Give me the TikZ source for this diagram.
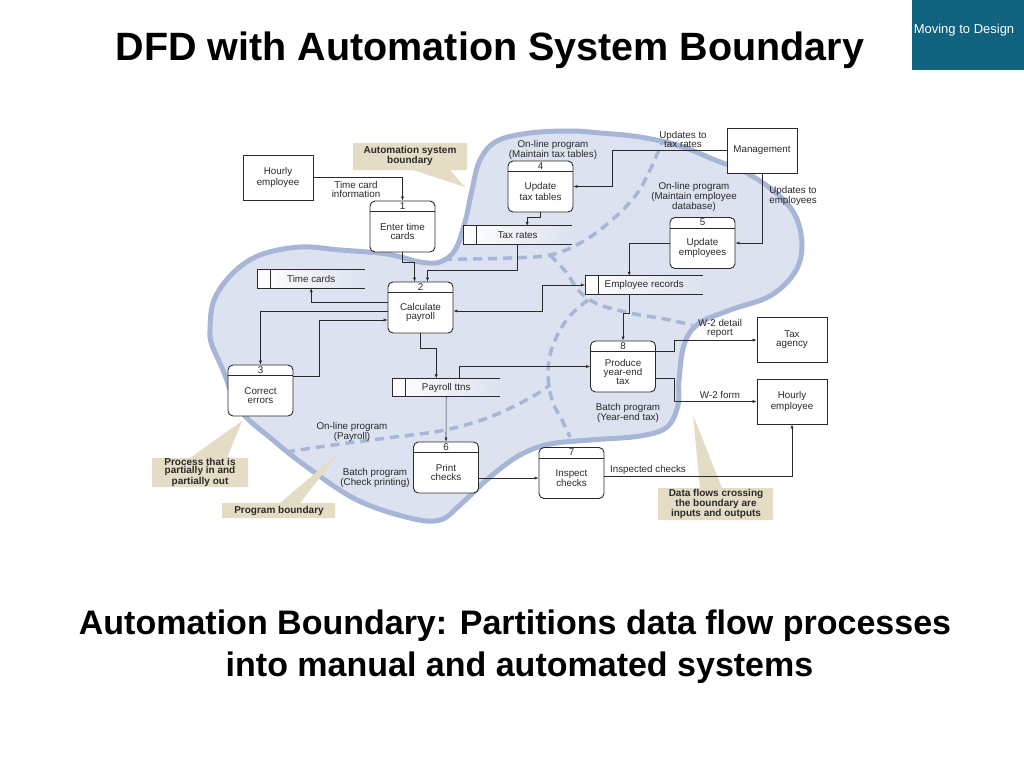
\documentclass[tikz,border=0pt]{standalone}
\usepackage{fontspec}
\setmainfont{Liberation Sans}
\usetikzlibrary{arrows.meta,calc}

\definecolor{blobfill}{HTML}{DCE2EF}
\definecolor{blobline}{HTML}{A7B6D6}
\definecolor{calloutbg}{HTML}{E4DCC5}
\definecolor{tealbox}{HTML}{11627F}
\definecolor{ink}{HTML}{2A2A2A}

\newcommand{\dfdfont}{\fontsize{9.8}{9}\selectfont}
\newcommand{\notefont}{\fontsize{10}{8.6}\selectfont\bfseries}

\tikzset{
  proc/.style={draw=ink, line width=0.9pt, rounded corners=5pt, fill=white,
    minimum width=65pt, minimum height=51pt, inner sep=0pt},
  entity/.style={draw=ink, line width=0.8pt, fill=white, minimum width=70pt,
    minimum height=45pt, align=center, font=\dfdfont, text=ink},
  store/.style={minimum height=18pt, inner sep=0pt, font=\dfdfont, text=ink,
    left color=white, middle color=white, right color=blobfill},
  lbl/.style={align=center, font=\dfdfont, inner sep=0pt, text=ink},
  note/.style={align=center, font=\notefont, inner sep=0pt, text=ink},
  flow/.style={draw=ink, line width=0.6pt, -{Latex[length=4pt,width=3.2pt]}},
  twoflow/.style={draw=ink, line width=0.6pt, {Latex[length=4pt,width=3.2pt]}-{Latex[length=4pt,width=3.2pt]}},
  boundary/.style={draw=blobline, line width=3.5pt, dash pattern=on 9pt off 6pt},
}

% process box: name, centre, number, text
\newcommand{\dfdproc}[4]{%
  \node[proc] (#1) at (#2) {};
  \draw[ink, line width=0.8pt] ($(#1.north west)+(0,11)$) -- ($(#1.north east)+(0,11)$);
  \node[lbl] (#1-num) at ($(#1.north)+(0,5.5)$) {#3};
  \node[lbl] (#1-txt) at ($(#1.center)+(0,5)$) {#4};
}
% open data store: name, west point, width, text
\newcommand{\dfdstore}[4]{%
  \node[store, minimum width=#3pt, anchor=west] (#1) at (#2) {#4};
  \draw[ink, line width=0.8pt] (#1.north east) -- (#1.north west) -- (#1.south west) -- (#1.south east);
  \draw[ink, line width=0.8pt] ($(#1.north west)+(13,0)$) -- ($(#1.south west)+(13,0)$);
}

\begin{document}
\begin{tikzpicture}[x=1pt, y=-1pt]
  \fill[white] (0,0) rectangle (1024,768);
  \useasboundingbox (0,0) rectangle (1024,768);

  % heading and tag
  \fill[tealbox] (912,0) rectangle (1024,70);
  \node[font=\fontsize{13}{13}\selectfont, text=white, anchor=base] (tag) at (964,34) {Moving to Design};
  \node[font=\fontsize{39.5}{40}\selectfont\bfseries, anchor=base] (title) at (490,60)
    {DFD with Automation System Boundary};

  % automation boundary
  \draw[fill=blobfill, draw=blobline, line width=5pt]
    plot[smooth cycle, tension=0.6] coordinates {
      (210,330) (214,300) (233,273) (260,255) (300,247) (340,250) (387,254)
      (420,262) (440,262) (455,250) (465,222) (472,190) (480,160) (497,141)
      (530,133) (570,131) (600,133) (640,137) (680,146) (715,160) (745,172)
      (775,192) (795,215) (802,245) (795,272) (770,296) (730,310) (698,324)
      (684,345) (679,380) (678,405) (667,427) (640,436) (590,440) (550,444)
      (520,455) (490,477) (460,505) (440,520) (410,518) (357,500) (307,467)
      (273,440) (240,410) (223,370) (212,345)};

  % program boundaries
  \draw[boundary] plot[smooth, tension=0.6] coordinates {
    (443,259) (470,259) (510,258) (550,255) (582,242) (612,220) (636,195) (651,168) (662,142)};
  \draw[boundary] plot[smooth, tension=0.6] coordinates {
    (550,255) (566,272) (580,292) (600,305) (635,314) (665,319) (692,325)};
  \draw[boundary] plot[smooth, tension=0.6] coordinates {
    (588,300) (568,318) (553,345) (548,372) (552,400) (562,420) (570,437)};
  \draw[boundary] plot[smooth, tension=0.6] coordinates {
    (286,452) (340,444) (395,437) (445,430) (490,417) (530,398) (550,385)};

  % callouts
  \fill[calloutbg] (353,143) rectangle (467,170) (413,170) -- (450,170) -- (465,187) -- cycle;
  \node[note] (noteauto) at (410,156) {Automation system\\boundary};
  \fill[calloutbg] (152,458) rectangle (248,487) (190,458) -- (227,458) -- (242,421) -- cycle;
  \node[note] (notepartial) at (200,472) {Process that is\\partially in and\\partially out};
  \fill[calloutbg] (222,503) rectangle (335,518) (280,503) -- (300,503) -- (340,452) -- cycle;
  \node[note] (noteprogram) at (279,511) {Program boundary};
  \fill[calloutbg] (658,488) rectangle (773,520) (700,488) -- (722,488) -- (693,415) -- cycle;
  \node[note] (notecross) at (716,504) {Data flows crossing\\the boundary are\\inputs and outputs};

  % external entities
  \node[entity] (hourlyin) at (278,177.5) {Hourly\\employee};
  \node[entity] (mgmt) at (762,150.5) {Management};
  \node[entity] (taxagency) at (792,340) {Tax\\agency};
  \node[entity] (hourlyout) at (792,401.5) {Hourly\\employee};

  % processes
  \dfdproc{p1}{402.5,226.5}{1}{Enter time\\cards}
  \dfdproc{p2}{420.5,307.5}{2}{Calculate\\payroll}
  \dfdproc{p3}{260.5,390.5}{3}{Correct\\errors}
  \dfdproc{p4}{540.5,186.5}{4}{Update\\tax tables}
  \dfdproc{p5}{702.5,243}{5}{Update\\employees}
  \dfdproc{p6}{446,467.5}{6}{Print\\checks}
  \dfdproc{p7}{571.5,473}{7}{Inspect\\checks}
  \dfdproc{p8}{623,366.5}{8}{Produce\\year-end\\tax}

  % data stores
  \dfdstore{timecards}{257,279}{108}{Time cards}
  \dfdstore{taxrates}{463,235}{109}{Tax rates}
  \dfdstore{emprec}{585,285}{118}{Employee records}
  \dfdstore{payroll}{392,387.5}{108}{Payroll ttns}

  % data flows
  \draw[flow] (hourlyin.east) -| (p1.north);
  \draw[flow] (p1.south) -- ++(0,10) -| ($(p2.north)+(-6,0)$);
  \draw[flow] (taxrates.south) -- ++(0,26) -| ($(p2.north)+(7,0)$);
  \draw[flow] (p4.south) -- ++(0,5) -| ($(taxrates.north)+(9.5,0)$);
  \draw[flow] (mgmt.west) -- ++(-114,0) |- (p4.east);
  \draw[flow] (mgmt.south) |- (p5.east);
  \draw[flow] (p5.west) -| ($(emprec.north)+(-15,0)$);
  \draw[twoflow] (emprec.west) -- ++(-43,0) |- ($(p2.east)+(0,3.5)$);
  \draw[flow] ($(p2.west)+(0,-5.5)$) -| (timecards.south);
  \draw[flow] ($(p2.west)+(0,3.5)$) -| (p3.north);
  \draw[flow] ($(p3.east)+(0,-14)$) -- ++(26,0) |- ($(p2.west)+(0,12.5)$);
  \draw[flow] (p2.south) -- ++(0,15) -| ($(payroll.north)+(-10,0)$);
  \draw[flow] ($(payroll.north)+(13,0)$) |- (p8.west);
  \draw[flow] (payroll.south) -- (p6.north);
  \draw[flow] ($(emprec.south)+(-15,0)$) -- ++(0,19) -| (p8.north);
  \draw[flow] ($(p8.east)+(0,-15.5)$) -- ++(18,0) |- (taxagency.west);
  \draw[flow] ($(p8.east)+(0,11.5)$) -- ++(18,0) |- (hourlyout.west);
  \draw[flow] ($(p6.east)+(0,10.5)$) -- ($(p7.west)+(0,5)$);
  \draw[flow] ($(p7.east)+(0,3)$) -| (hourlyout.south);

  % flow and region labels
  \node[lbl] (lbltimecard) at (356,189.5) {Time card\\information};
  \node[lbl] (lbltaxupd) at (683,139) {Updates to\\tax rates};
  \node[lbl] (lblempupd) at (793,196) {Updates to\\employees};
  \node[lbl] (lblw2detail) at (720,328) {W-2 detail\\report};
  \node[lbl] (lblw2form) at (720,395) {W-2 form};
  \node[lbl] (lblinspected) at (648,470) {Inspected checks};
  \node[lbl] (lbltaxprog) at (553,150) {On-line program\\(Maintain tax tables)};
  \node[lbl] (lblempprog) at (694,197) {On-line program\\(Maintain employee\\database)};
  \node[lbl] (lblpayprog) at (352,432) {On-line program\\(Payroll)};
  \node[lbl] (lblcheckprog) at (375,478) {Batch program\\(Check printing)};
  \node[lbl] (lblyearprog) at (628,413) {Batch program\\(Year-end tax)};

  % caption
  \node[font=\fontsize{34}{34}\selectfont\bfseries, anchor=base] (caption1) at (515,634)
    {Automation Boundary: Partitions data flow processes};
  \node[font=\fontsize{34}{34}\selectfont\bfseries, anchor=base] (caption2) at (519.5,676)
    {into manual and automated systems};
\end{tikzpicture}
\end{document}
